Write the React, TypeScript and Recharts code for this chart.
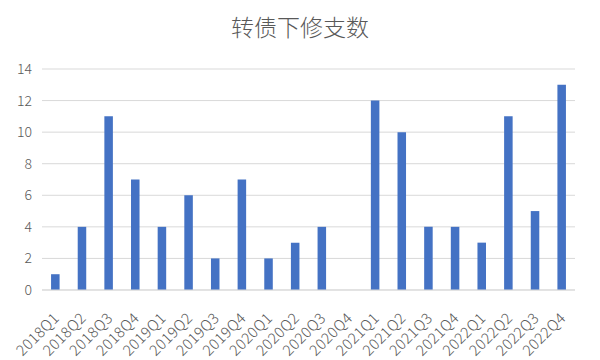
import { BarChart, Bar, XAxis, YAxis, CartesianGrid } from "recharts";

const quarters = [
  "2018Q1", "2018Q2", "2018Q3", "2018Q4",
  "2019Q1", "2019Q2", "2019Q3", "2019Q4",
  "2020Q1", "2020Q2", "2020Q3", "2020Q4",
  "2021Q1", "2021Q2", "2021Q3", "2021Q4",
  "2022Q1", "2022Q2", "2022Q3", "2022Q4",
];
const counts = [1, 4, 11, 7, 4, 6, 2, 7, 2, 3, 4, 0, 12, 10, 4, 4, 3, 11, 5, 13];
const yTicks = [0, 2, 4, 6, 8, 10, 12, 14];

const FONT = '"Noto Sans CJK SC", "Noto Sans", sans-serif';
const GRAY = "#595959";

const data = quarters.map((q, i) => ({ q, n: counts[i] }));

// rotated category labels, anchored at their end like Excel does
function QuarterTick({ x, y, payload }: any) {
  const ax = x + 5;
  const ay = y + 21;
  return (
    <text
      x={ax}
      y={ay}
      transform={`rotate(-45, ${ax}, ${ay})`}
      textAnchor="end"
      fill={GRAY}
      fontSize={15}
      fontWeight={300}
      letterSpacing={0.4}
      fontFamily={FONT}
    >
      {payload.value}
    </text>
  );
}

export default function App() {
  return (
    <div style={{ position: "absolute", left: 0, top: 0, width: 600, height: 360, background: "#fff" }}>
      <div
        style={{
          position: "absolute",
          top: 10,
          width: 600,
          textAlign: "center",
          fontFamily: FONT,
          fontSize: 23,
          lineHeight: "32px",
          fontWeight: 300,
          color: GRAY,
        }}
      >
        转债下修支数
      </div>
      <BarChart
        width={600}
        height={360}
        data={data}
        margin={{ top: 69, right: 25, bottom: 0, left: 0 }}
        barCategoryGap="66%"
      >
        <CartesianGrid vertical={false} stroke="#d9d9d9" />
        <XAxis
          dataKey="q"
          interval={0}
          height={70}
          tick={<QuarterTick />}
          tickLine={false}
          axisLine={{ stroke: "#d9d9d9" }}
        />
        <YAxis
          width={42}
          domain={[0, 14]}
          ticks={yTicks}
          tickLine={false}
          axisLine={false}
          tickSize={0}
          tickMargin={10}
          tick={{ fill: GRAY, fontSize: 14, fontWeight: 300, fontFamily: FONT }}
        />
        <Bar dataKey="n" fill="#4472C4" isAnimationActive={false} />
      </BarChart>
    </div>
  );
}
